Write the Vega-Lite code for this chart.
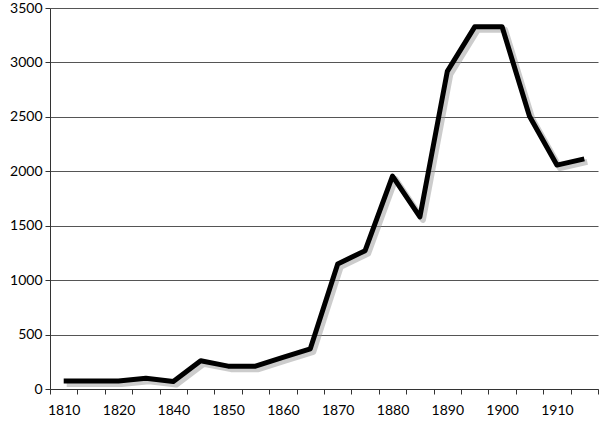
{
  "$schema": "https://vega.github.io/schema/vega-lite/v6.json",
  "width": 548,
  "height": 381,
  "autosize": "none",
  "padding": {"left": 50, "top": 8, "right": 2, "bottom": 34},
  "background": "white",
  "config": {
    "view": {"stroke": null},
    "font": "Lato",
    "axis": {"labelFont": "Lato", "labelFontSize": 14, "labelColor": "#000", "domainColor": "#333", "tickColor": "#333"}
  },
  "data": {
    "values": [
      {"year": "1810", "value": 73},
      {"year": "1815", "value": 73},
      {"year": "1820", "value": 73},
      {"year": "1830", "value": 98},
      {"year": "1840", "value": 68},
      {"year": "1845", "value": 259},
      {"year": "1850", "value": 210},
      {"year": "1855", "value": 210},
      {"year": "1860", "value": 290},
      {"year": "1865", "value": 369},
      {"year": "1870", "value": 1149},
      {"year": "1875", "value": 1271},
      {"year": "1880", "value": 1956},
      {"year": "1885", "value": 1581},
      {"year": "1890", "value": 2918},
      {"year": "1895", "value": 3327},
      {"year": "1900", "value": 3327},
      {"year": "1905", "value": 2505},
      {"year": "1910", "value": 2057},
      {"year": "1915", "value": 2114}
    ]
  },
  "encoding": {
    "x": {
      "field": "year",
      "type": "ordinal",
      "sort": null,
      "scale": {"type": "band", "paddingInner": 0, "paddingOuter": 0},
      "axis": {
        "title": null,
        "labelAngle": 0,
        "tickBand": "extent",
        "tickSize": 5,
        "labelPadding": 9,
        "domainColor": "#333",
        "labelExpr": "indexof(['1810','1820','1840','1850','1860','1870','1880','1890','1900','1910'], datum.label) >= 0 ? datum.label : ''"
      }
    },
    "y": {
      "field": "value",
      "type": "quantitative",
      "scale": {"domain": [0, 3500]},
      "axis": {
        "title": null,
        "format": "d",
        "values": [0, 500, 1000, 1500, 2000, 2500, 3000, 3500],
        "grid": true,
        "gridColor": "#555",
        "gridWidth": 1,
        "tickSize": 5,
        "labelPadding": 3
      }
    }
  },
  "layer": [
    {
      "mark": {"type": "line", "color": "#999", "strokeWidth": 6, "opacity": 0.5, "xOffset": 3, "yOffset": 3, "strokeJoin": "round"}
    },
    {
      "mark": {"type": "line", "color": "#000", "strokeWidth": 5, "strokeJoin": "round"}
    }
  ]
}
